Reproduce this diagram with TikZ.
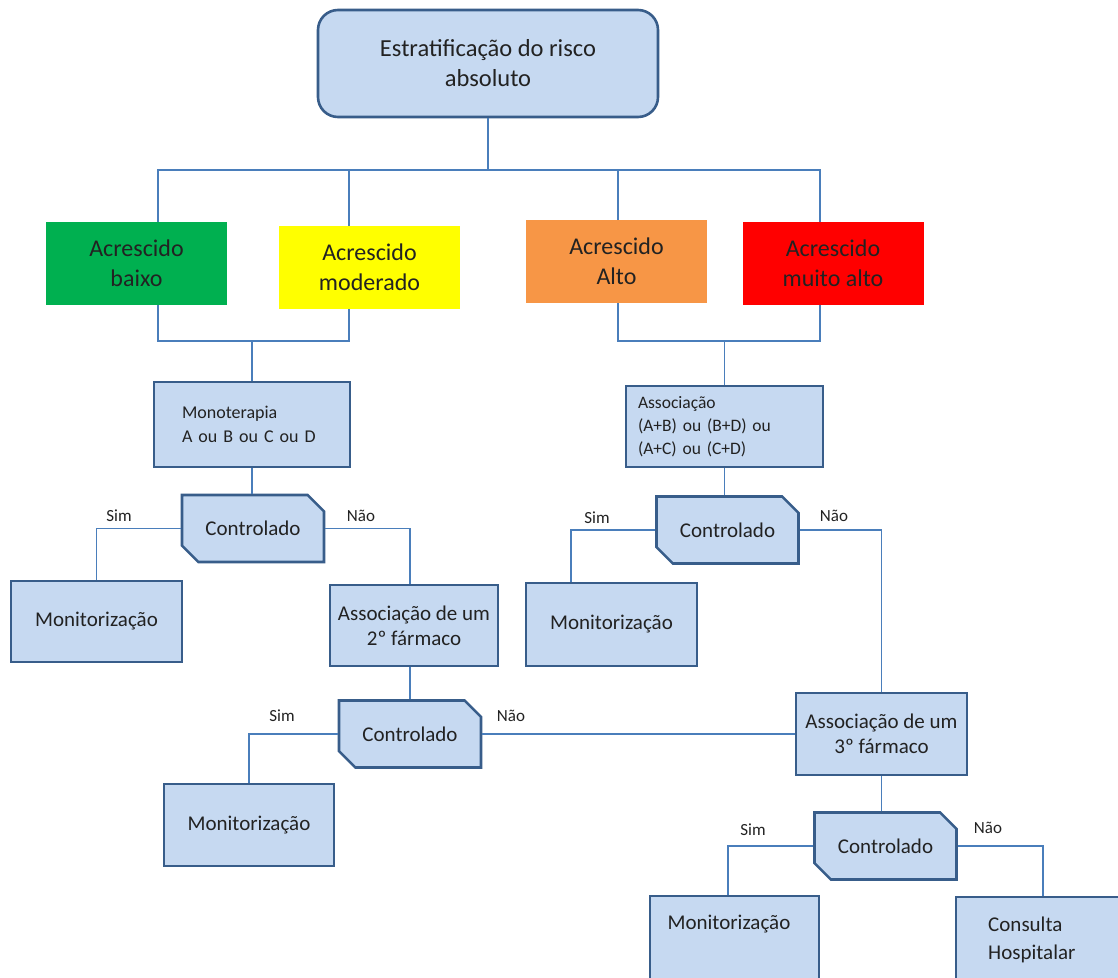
\documentclass[tikz,border=0pt]{standalone}
\usepackage{fontspec}
\setmainfont{Carlito}
\usetikzlibrary{shapes.misc}
\definecolor{boxfill}{HTML}{C6D9F1}
\definecolor{boxline}{HTML}{385D8A}
\definecolor{connline}{HTML}{4A7EBB}
\definecolor{cgreen}{HTML}{00B050}
\definecolor{cyellow}{HTML}{FFFF00}
\definecolor{corange}{HTML}{F79646}
\definecolor{cred}{HTML}{FF0000}
\definecolor{txt}{HTML}{222222}
\tikzset{
  x=1pt, y=-1pt,
  every node/.style={text=txt},
  bluebox/.style={draw=boxline, fill=boxfill, line width=2.6pt, inner sep=0pt, align=center, font=\fontsize{21}{25}\selectfont},
  riskbox/.style={inner sep=0pt, minimum width=181, minimum height=83, align=center, font=\fontsize{24}{30}\selectfont},
  ctrlbox/.style={bluebox, chamfered rectangle, chamfered rectangle corners={north east,south west}, chamfered rectangle xsep=9pt, chamfered rectangle ysep=9pt, minimum width=142, minimum height=67},
  monbox/.style={bluebox, minimum width=170, minimum height=82},
  conn/.style={draw=connline, line width=1.4pt},
  lbl/.style={font=\fontsize{17}{20}\selectfont, inner sep=0pt}
}
\begin{document}
\begin{tikzpicture}
\path[use as bounding box, clip] (0,0) rectangle (1118,977);
\fill[white] (0,0) rectangle (1118,977);

% top box
\node[bluebox, rounded corners=20pt, minimum width=340, minimum height=107, font=\fontsize{24.5}{30}\selectfont] (top) at (488,63.5) {Estratificação do risco\\absoluto};

% risk boxes
\node[riskbox, fill=cgreen] (green) at (136.5,263.5) {Acrescido\\baixo};
\node[riskbox, fill=cyellow] (yellow) at (369.5,267.5) {Acrescido\\moderado};
\node[riskbox, fill=corange] (orange) at (616.5,261.5) {Acrescido\\Alto};
\node[riskbox, fill=cred] (red) at (833,263.5) {Acrescido\\muito alto};

% therapy boxes
\node[bluebox, minimum width=196, minimum height=85, text width=140, inner xsep=28pt, align=left, font=\fontsize{18}{24}\selectfont] (mono) at (252,424.5) {Monoterapia\\A ou B ou C ou D};
\node[bluebox, minimum width=197, minimum height=81, text width=173, inner xsep=12pt, align=left, font=\fontsize{17.5}{23}\selectfont] (assoc) at (724.5,426.5) {Associação\\(A+B) ou (B+D) ou\\(A+C) ou (C+D)};

% controlado boxes
\node[ctrlbox] (c1) at (253,528.5) {Controlado};
\node[ctrlbox] (c2) at (410,734) {Controlado};
\node[ctrlbox] (c3) at (727.5,530) {Controlado};
\node[ctrlbox] (c4) at (885.5,846) {Controlado};

% monitoring / association boxes
\node[monbox, minimum width=171, minimum height=81] (mon1) at (96.5,621.5) {Monitorização};
\node[monbox, minimum width=168, minimum height=81] (a2) at (414,625.5) {Associação de um\\2º fármaco};
\node[monbox, minimum width=170, minimum height=82] (mon2) at (249,825) {Monitorização};
\node[monbox, minimum width=171, minimum height=83] (mon3) at (611.5,624.5) {Monitorização};
\node[monbox, minimum width=171, minimum height=82] (a3) at (881.5,734) {Associação de um\\3º fármaco};
\node[monbox, minimum width=169, minimum height=100] (mon4) at (734.5,946) {};
\node[font=\fontsize{21}{25}\selectfont, inner sep=0pt] (mon4t) at (729,924) {Monitorização};
\node[monbox, minimum width=200, minimum height=100] (cons) at (1056,947) {};
\node[font=\fontsize{21}{28}\selectfont, inner sep=0pt, align=left, anchor=west] (const) at (988,940) {Consulta\\Hospitalar};

% labels
\node[lbl] (s1) at (119,516) {Sim};
\node[lbl] (n1) at (361,516) {Não};
\node[lbl] (s2) at (282,716) {Sim};
\node[lbl] (n2) at (511,716) {Não};
\node[lbl] (s3) at (597,518) {Sim};
\node[lbl] (n3) at (834,516) {Não};
\node[lbl] (s4) at (753,830) {Sim};
\node[lbl] (n4) at (988,828) {Não};

% coordinates
\coordinate (bus) at (488,170);
\coordinate (xg) at (158,0);
\coordinate (xy) at (349,0);
\coordinate (xo) at (618,0);
\coordinate (xr) at (820,0);
\coordinate (jl) at (252,341);
\coordinate (jr) at (724.5,341);
\coordinate (xm3) at (571,0);
\coordinate (xm4) at (728,0);
\coordinate (xc) at (1043,0);

% connectors
\draw[conn] (top.south) -- (top.south |- bus);
\draw[conn] (green.north -| xg) -- (xg |- bus) -- (xr |- bus) -- (red.north -| xr);
\draw[conn] (yellow.north -| xy) -- (xy |- bus);
\draw[conn] (orange.north -| xo) -- (xo |- bus);
\draw[conn] (green.south -| xg) -- (xg |- jl) -- (xy |- jl) -- (yellow.south -| xy);
\draw[conn] (jl) -- (mono.north);
\draw[conn] (orange.south -| xo) -- (xo |- jr) -- (xr |- jr) -- (red.south -| xr);
\draw[conn] (jr) -- (assoc.north);
\draw[conn] (mono.south) -- (mono.south |- c1.north);
\draw[conn] (c1.west) -| (mon1.north);
\draw[conn] (c1.east) -| (c2.north |- a2.north);
\draw[conn] (c2.north |- a2.south) -- (c2.north);
\draw[conn] (c2.west) -| (mon2.north);
\draw[conn] (c2.east) -- (c2.east -| a3.west);
\draw[conn] (assoc.south) -- (assoc.south |- c3.north);
\draw[conn] (c3.west) -| (xm3 |- mon3.north);
\draw[conn] (c3.east) -| (a3.north);
\draw[conn] (a3.south) -- (a3.south |- c4.north);
\draw[conn] (c4.west) -| (xm4 |- mon4.north);
\draw[conn] (c4.east) -| (xc |- cons.north);
\end{tikzpicture}
\end{document}
